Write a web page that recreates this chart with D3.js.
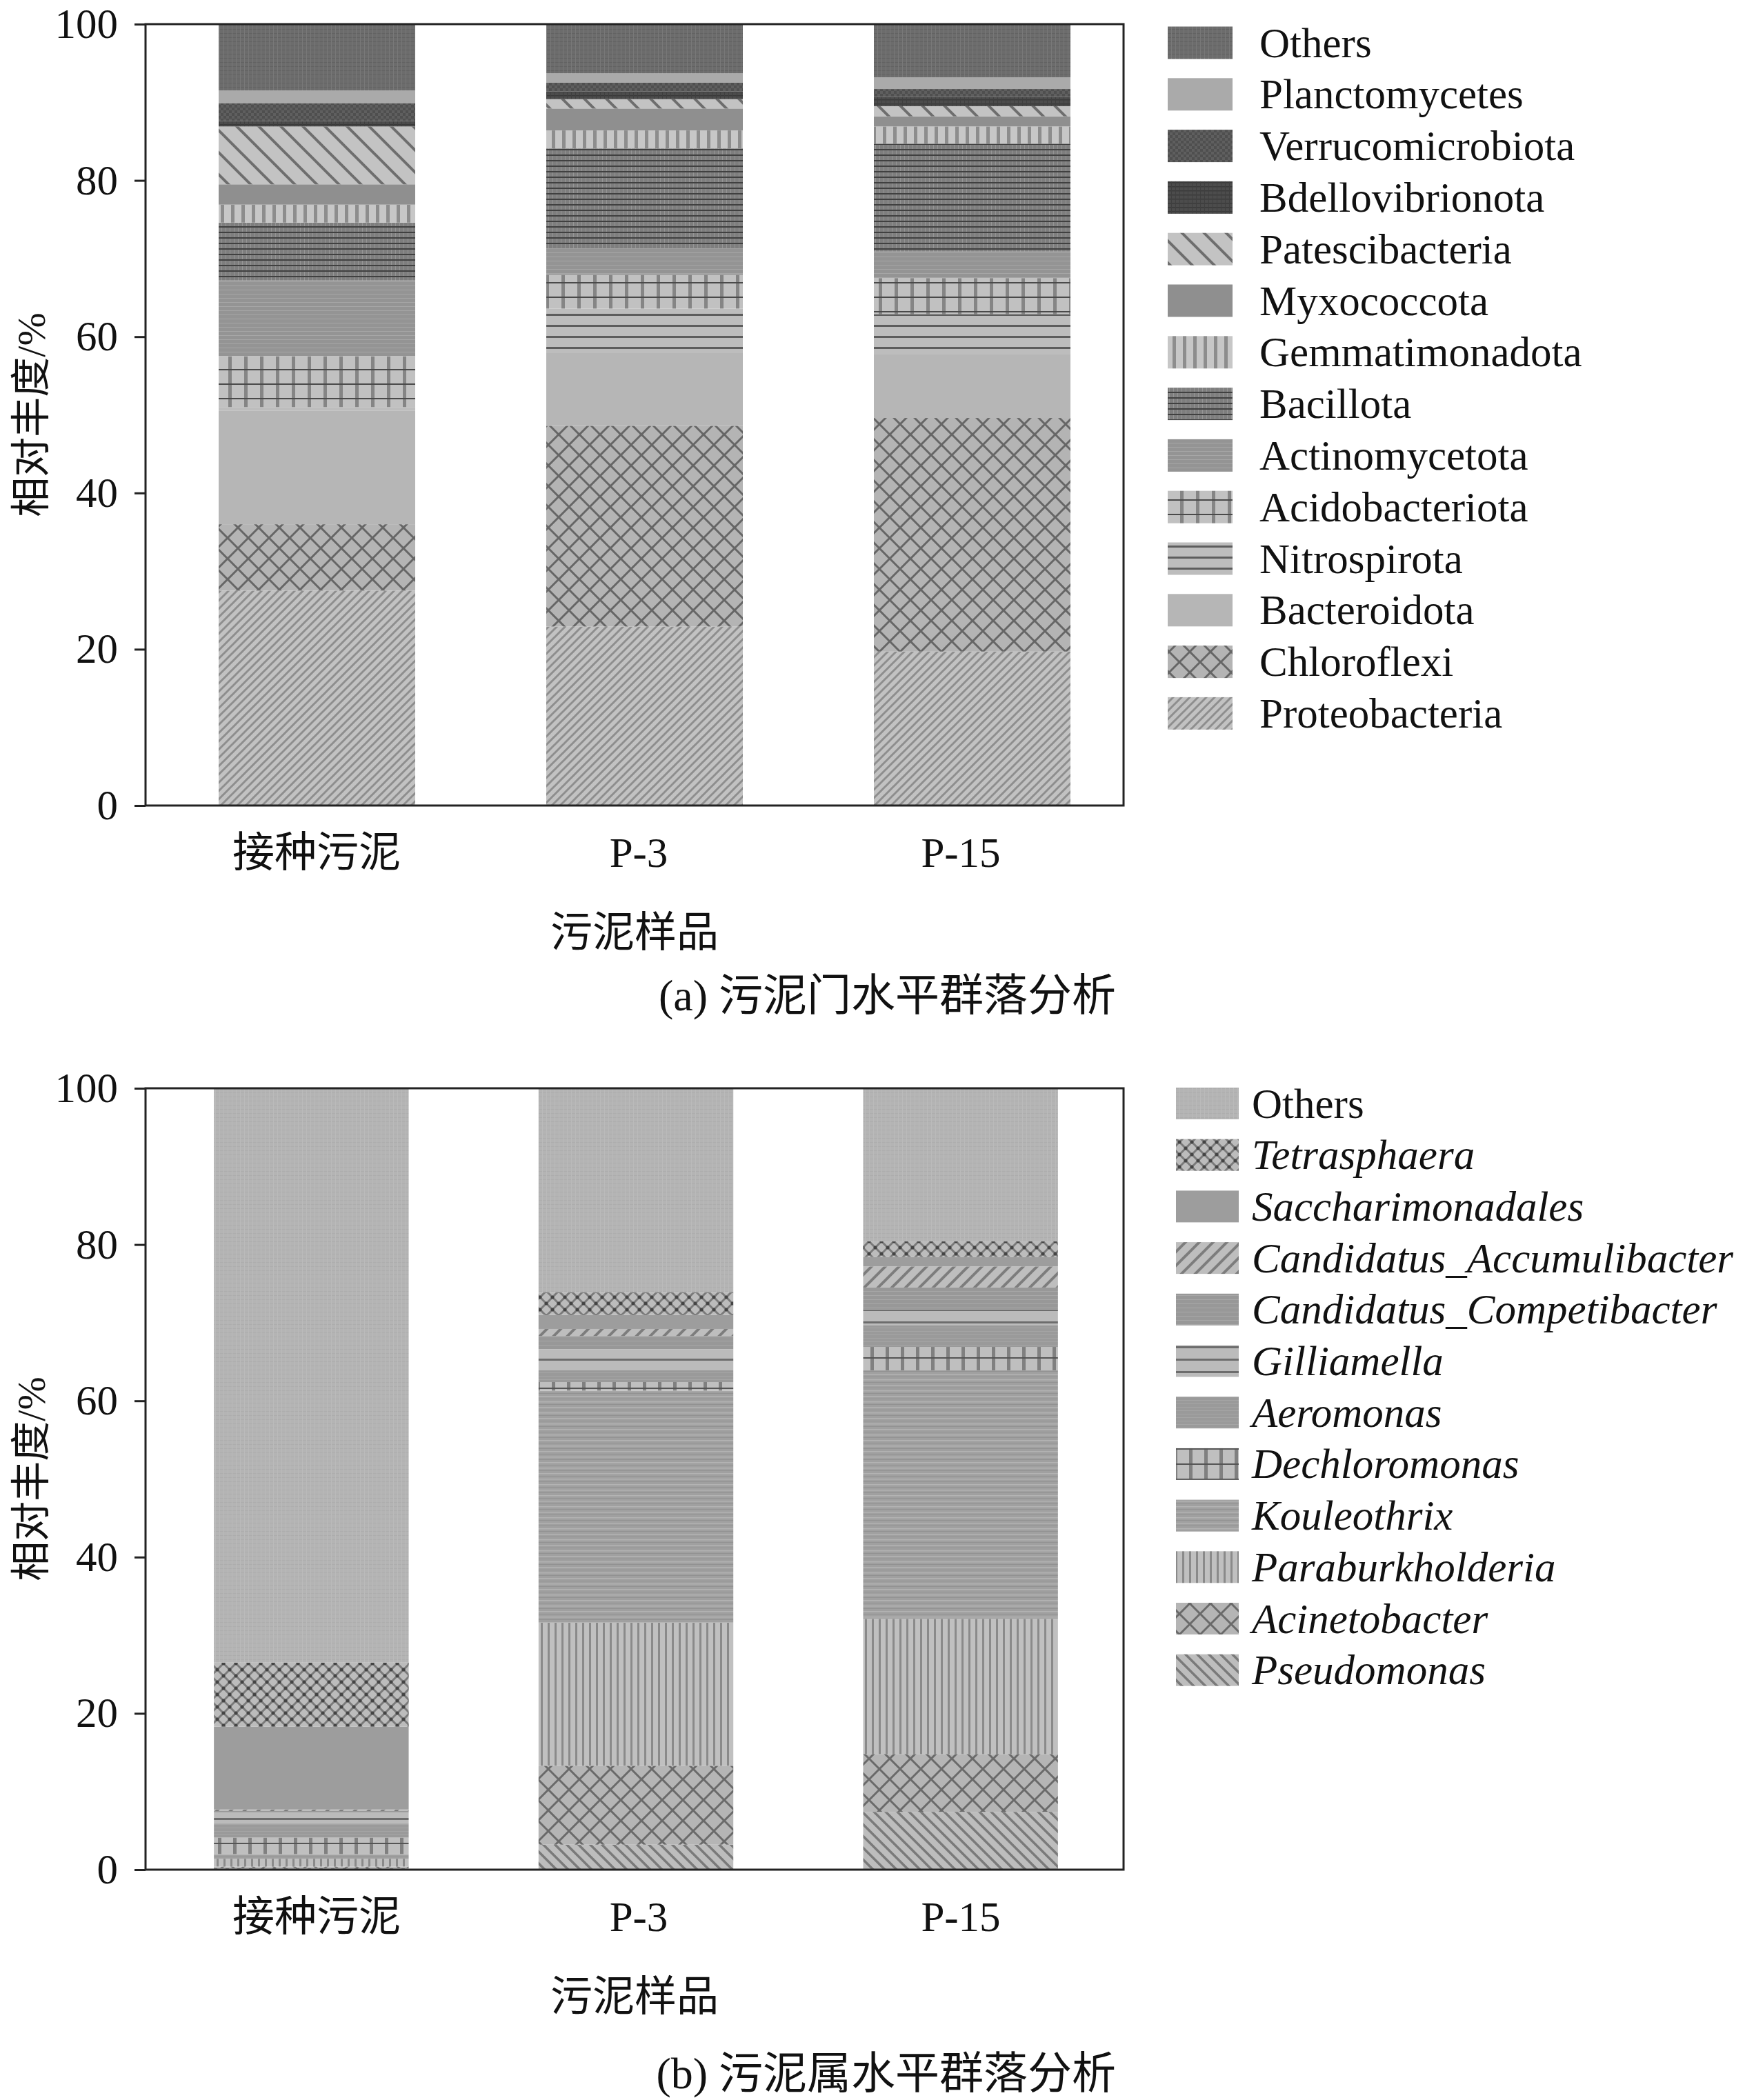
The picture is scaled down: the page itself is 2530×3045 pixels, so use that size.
<!DOCTYPE html>
<html><head><meta charset="utf-8">
<script src="https://cdn.jsdelivr.net/npm/d3@7"></script>
<style>
body{margin:0;background:#fff}
svg text{font-family:"Liberation Serif","Times New Roman","Noto Sans CJK SC",serif;fill:#111}
</style>
</head><body>
<svg id="chart" width="2530" height="3045"></svg>
<script>
// ---------------- data ----------------
const samples = ["接种污泥", "P-3", "P-15"];
const yTicks = [0, 20, 40, 60, 80, 100];

// phylum level, stacking order bottom -> top
const phylumSeries = ["Proteobacteria","Chloroflexi","Bacteroidota","Nitrospirota","Acidobacteriota","Actinomycetota","Bacillota","Gemmatimonadota","Myxococcota","Patescibacteria","Bdellovibrionota","Verrucomicrobiota","Planctomycetes","Others"];
const phylumInoculum = [27.5, 8.5, 14.5, 0.5, 6.5, 9.7, 7.4, 2.3, 2.6, 7.4, 0.7, 2.3, 1.6, 8.5];
const phylumP3       = [22.9, 25.7, 9.3, 5.7, 4.3, 3.4, 12.8, 2.3, 2.8, 1.2, 1.0, 1.1, 1.2, 6.3];
const phylumP15      = [19.7, 29.9, 8.2, 5.1, 4.6, 3.4, 13.8, 2.2, 1.3, 1.3, 1.2, 1.0, 1.5, 6.8];

// genus level, stacking order bottom -> top
const genusSeries = ["Pseudomonas","Acinetobacter","Paraburkholderia","Kouleothrix","Dechloromonas","Aeromonas","Gilliamella","Candidatus_Competibacter","Candidatus_Accumulibacter","Saccharimonadales","Tetrasphaera","Others"];
const genusInoculum = [0.2, 0.2, 1.0, 0.6, 2.1, 1.8, 1.4, 0.2, 0.2, 10.6, 8.2, 73.5];
const genusP3       = [3.2, 10.1, 18.3, 29.7, 1.1, 1.5, 2.7, 1.7, 0.9, 1.8, 2.9, 26.1];
const genusP15      = [7.4, 7.4, 17.3, 31.8, 3.0, 2.8, 2.0, 2.8, 2.7, 1.2, 2.0, 19.6];

const axisTitleY = "相对丰度/%";
const axisTitleX = "污泥样品";
const captionA = "(a) 污泥门水平群落分析";
const captionB = "(b) 污泥属水平群落分析";

// ---------------- pattern helpers ----------------
const svg = d3.select("#chart");
const defs = svg.append("defs");

function pat(id, w, h, bg, draw) {
  const p = defs.append("pattern").attr("id", id)
    .attr("patternUnits", "userSpaceOnUse").attr("width", w).attr("height", h);
  p.append("rect").attr("width", w).attr("height", h).attr("fill", bg);
  if (draw) draw(p, w, h);
}
const hl = (y, hh, c) => (p, w) => p.append("rect").attr("x", 0).attr("y", y).attr("width", w).attr("height", hh).attr("fill", c);
const vl = (x, ww, c) => (p, w, h) => p.append("rect").attr("x", x).attr("y", 0).attr("width", ww).attr("height", h).attr("fill", c);
const fwd = (c, sw) => (p, w) => p.append("path")
  .attr("d", `M0,${w} L${w},0 M${-w/2},${w/2} L${w/2},${-w/2} M${w/2},${1.5*w} L${1.5*w},${w/2}`)
  .attr("stroke", c).attr("stroke-width", sw).attr("fill", "none");
const back = (c, sw) => (p, w) => p.append("path")
  .attr("d", `M0,0 L${w},${w} M${-w/2},${w/2} L${w/2},${1.5*w} M${w/2},${-w/2} L${1.5*w},${w/2}`)
  .attr("stroke", c).attr("stroke-width", sw).attr("fill", "none");
const dots = (c, r) => (p, w) => {
  [[0,0],[w,0],[0,w],[w,w],[w/2,w/2]].forEach(([x,y]) =>
    p.append("circle").attr("cx", x).attr("cy", y).attr("r", r).attr("fill", c));
};
const multi = (...fs) => (p, w, h) => fs.forEach(f => f(p, w, h));

const styleA = {
  "Others":            ["#6c6c6c", 6, 6, multi(hl(0, 1, "#626262"), vl(0, 1, "#787878"))],
  "Planctomycetes":    ["#aaaaaa", 6, 6, null],
  "Verrucomicrobiota": ["#4f4f4f", 8, 8, (p) => { p.append("rect").attr("width",4).attr("height",4).attr("fill","#5f5f5f"); p.append("rect").attr("x",4).attr("y",4).attr("width",4).attr("height",4).attr("fill","#5f5f5f"); }],
  "Bdellovibrionota":  ["#4c4c4c", 6, 6, multi(hl(0, 1.5, "#3a3a3a"), vl(0, 1, "#3f3f3f"))],
  "Patescibacteria":   ["#c3c3c3", 32, 32, back("#6e6e6e", 4)],
  "Myxococcota":       ["#8f8f8f", 6, 6, null],
  "Gemmatimonadota":   ["#c7c7c7", 15, 10, vl(5, 5, "#8d8d8d")],
  "Bacillota":         ["#7e7e7e", 6, 8, multi(vl(3, 1, "#969696"), hl(0, 2, "#404040"))],
  "Actinomycetota":    ["#949494", 4, 6, hl(0, 1, "#a6a6a6")],
  "Acidobacteriota":   ["#c1c1c1", 23, 21, multi(vl(9, 5, "#858585"), hl(10, 2, "#4a4a4a"))],
  "Nitrospirota":      ["#bdbdbd", 10, 16, hl(7, 3, "#5d5d5d")],
  "Bacteroidota":      ["#b6b6b6", 6, 6, null],
  "Chloroflexi":       ["#b4b4b4", 30, 30, multi(fwd("#666", 3), back("#666", 3))],
  "Proteobacteria":    ["#c2c2c2", 12, 12, fwd("#8e8e8e", 3)]
};
const styleB = {
  "Others":                   ["#b4b4b4", 6, 6, multi(hl(0, 1, "#adadad"), vl(0, 1, "#bababa"))],
  "Tetrasphaera":             ["#bcbcbc", 18, 18, multi(fwd("#7a7a7a", 3), back("#7a7a7a", 3), dots("#444", 2.5))],
  "Saccharimonadales":        ["#9d9d9d", 6, 6, null],
  "Candidatus_Accumulibacter":["#bebebe", 20, 20, fwd("#7d7d7d", 4)],
  "Candidatus_Competibacter": ["#989898", 4, 6, hl(0, 1, "#a7a7a7")],
  "Gilliamella":              ["#bbbbbb", 10, 18, hl(8, 3, "#6d6d6d")],
  "Aeromonas":                ["#9a9a9a", 4, 5, hl(0, 1, "#a5a5a5")],
  "Dechloromonas":            ["#bfbfbf", 22, 22, multi(vl(8, 5, "#808080"), hl(10, 2, "#555"))],
  "Kouleothrix":              ["#a0a0a0", 4, 8, multi(hl(0, 1.5, "#b3b3b3"), hl(4, 1, "#929292"))],
  "Paraburkholderia":         ["#c0c0c0", 10, 10, vl(4, 3, "#8a8a8a")],
  "Acinetobacter":            ["#b5b5b5", 30, 30, multi(fwd("#6a6a6a", 3), back("#6a6a6a", 3))],
  "Pseudomonas":              ["#bdbdbd", 17, 17, back("#7a7a7a", 3.5)]
};

// ---------------- chart builder ----------------
function drawChart(cfg) {
  const frameL = 211, frameR = 1629, plotH = 1133;
  const top = cfg.top, bottom = top + plotH;
  const g = svg.append("g");

  cfg.series.forEach((s, i) => {
    const [bg, w, h, draw] = cfg.style[s];
    pat(cfg.prefix + i, w, h, bg, draw);
  });

  const rows = samples.map((name, j) => {
    const r = { sample: name };
    cfg.series.forEach((s, i) => { r[s] = cfg.values[j][i]; });
    return r;
  });
  const stacked = d3.stack().keys(cfg.series)(rows);

  const x = d3.scaleBand().domain(samples).range(cfg.barRange).paddingInner(0.4).paddingOuter(0.2);
  const y = d3.scaleLinear().domain([0, 100]).range([bottom, top]);

  g.selectAll("g.layer").data(stacked).join("g").attr("class", "layer")
    .attr("fill", (d, i) => `url(#${cfg.prefix}${i})`)
    .selectAll("rect").data(d => d).join("rect")
    .attr("x", d => x(d.data.sample))
    .attr("width", x.bandwidth())
    .attr("y", d => y(d[1]))
    .attr("height", d => Math.max(0, y(d[0]) - y(d[1])));

  g.append("rect").attr("x", frameL).attr("y", top).attr("width", frameR - frameL).attr("height", plotH)
    .attr("fill", "none").attr("stroke", "#222").attr("stroke-width", 3);

  const ax = g.append("g").attr("transform", `translate(${frameL},0)`)
    .call(d3.axisLeft(y).tickValues(yTicks).tickSize(16).tickPadding(24));
  ax.select(".domain").remove();
  ax.selectAll(".tick line").attr("stroke", "#222").attr("stroke-width", 3);
  ax.selectAll(".tick text").attr("font-size", 61).attr("fill", "#111")
    .attr("font-family", "Liberation Serif, serif");

  const xl = d3.scalePoint().domain(samples).range(cfg.labelRange);
  g.selectAll("text.xl").data(samples).join("text").attr("class", "xl")
    .attr("x", d => xl(d)).attr("y", bottom + 68)
    .attr("text-anchor", "middle").attr("dominant-baseline", "central")
    .attr("font-size", 61).text(d => d);

  g.append("text").attr("transform", `translate(45,${(top + bottom) / 2}) rotate(-90)`)
    .attr("text-anchor", "middle").attr("dominant-baseline", "central")
    .attr("font-size", 58).text(axisTitleY);
  g.append("text").attr("x", 920).attr("y", bottom + 184)
    .attr("text-anchor", "middle").attr("dominant-baseline", "central")
    .attr("font-size", 61).text(axisTitleX);
  g.append("text").attr("x", 1618).attr("y", bottom + cfg.captionDy)
    .attr("text-anchor", "end").attr("dominant-baseline", "central")
    .attr("font-size", 64).text(cfg.caption);

  const legendItems = cfg.series.map((s, i) => ({ s, i })).reverse();
  const lg = g.append("g");
  legendItems.forEach((d, k) => {
    const cy = cfg.legend.y0 + k * cfg.legend.dy;
    lg.append("rect").attr("x", cfg.legend.sx).attr("y", cy - cfg.legend.sh / 2)
      .attr("width", cfg.legend.sw).attr("height", cfg.legend.sh)
      .attr("fill", `url(#${cfg.prefix}${d.i})`);
    lg.append("text").attr("x", cfg.legend.tx).attr("y", cy)
      .attr("dominant-baseline", "central").attr("font-size", 61)
      .attr("font-style", cfg.italic && d.s !== "Others" ? "italic" : "normal")
      .text(d.s);
  });
}

drawChart({
  top: 35, prefix: "pa", series: phylumSeries, style: styleA,
  values: [phylumInoculum, phylumP3, phylumP15],
  barRange: [222, 1647], labelRange: [459, 1393],
  caption: captionA, captionDy: 275, italic: false,
  legend: { y0: 62, dy: 74.8, sx: 1693, sw: 94, sh: 47, tx: 1826 }
});
drawChart({
  top: 1578, prefix: "pb", series: genusSeries, style: styleB,
  values: [genusInoculum, genusP3, genusP15],
  barRange: [216, 1628], labelRange: [459, 1393],
  caption: captionB, captionDy: 295, italic: true,
  legend: { y0: 1600, dy: 74.7, sx: 1705, sw: 91, sh: 46, tx: 1815 }
});
</script>
</body></html>
